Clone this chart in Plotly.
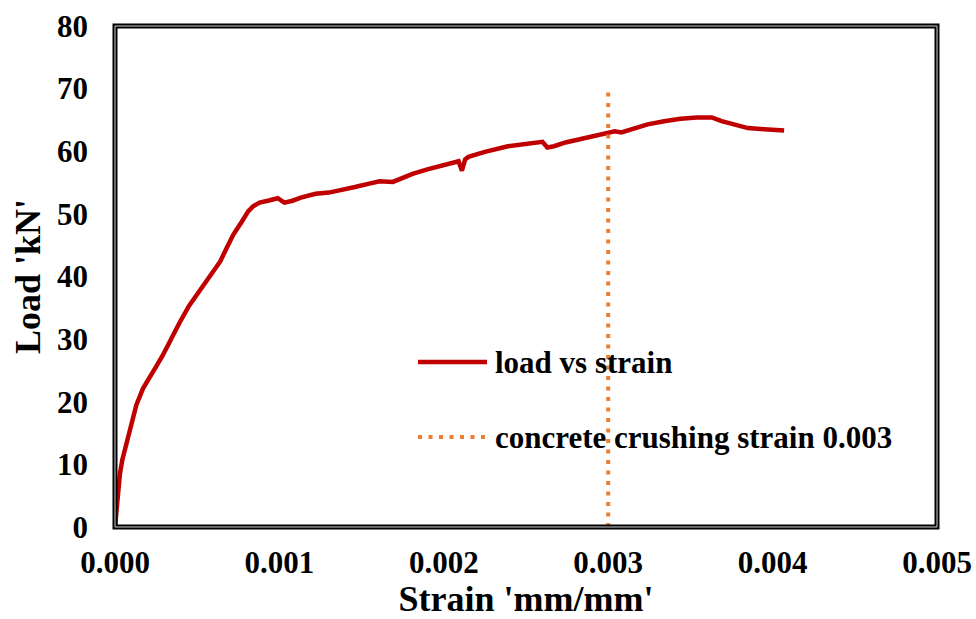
import plotly.graph_objects as go

# Measured load-strain response of the beam
strain = [0, 0.00001, 0.00003, 0.000045, 0.00006, 0.00008, 0.0001, 0.00013, 0.00017,
          0.00021, 0.00025, 0.00029, 0.00033, 0.00039, 0.00045, 0.00051, 0.00058,
          0.00064, 0.00068, 0.00072, 0.00077, 0.00081, 0.00084, 0.00088, 0.00093,
          0.00099, 0.00103, 0.00108, 0.00113, 0.00122, 0.00130, 0.00138, 0.00146,
          0.00154, 0.00161, 0.00169, 0.00175, 0.00181, 0.00190, 0.00200, 0.00209,
          0.00211, 0.00213, 0.00215, 0.00225, 0.00239, 0.00250, 0.00260, 0.00263,
          0.00267, 0.00274, 0.00285, 0.00294, 0.00300, 0.00304, 0.00308, 0.00316,
          0.00324, 0.00334, 0.00344, 0.00354, 0.00363, 0.00369, 0.00377, 0.00385,
          0.00395, 0.00407]
load = [0, 3.0, 8.5, 10.8, 12.3, 14.7, 16.5, 19.5, 22.1,
        24.0, 25.6, 27.4, 29.6, 32.5, 35.3, 37.6, 40.0,
        42.4, 44.6, 46.7, 48.7, 50.4, 51.2, 51.8, 52.1,
        52.5, 51.8, 52.1, 52.6, 53.2, 53.4, 53.8, 54.3,
        54.8, 55.2, 55.1, 55.8, 56.4, 57.1, 57.8, 58.4,
        56.9, 58.7, 59.1, 59.9, 60.8, 61.2, 61.5, 60.6,
        60.8, 61.4, 62.1, 62.7, 63.0, 63.2, 63.0, 63.6,
        64.3, 64.8, 65.2, 65.4, 65.4, 64.8, 64.2, 63.7,
        63.5, 63.3]

# Concrete crushing strain reference line
crush_strain = [0.003, 0.003]
crush_load = [0, 70]

x_ticks = [0, 0.001, 0.002, 0.003, 0.004, 0.005]
x_tick_text = ["0.000", "0.001", "0.002", "0.003", "0.004", "0.005"]
y_ticks = [0, 10, 20, 30, 40, 50, 60, 70, 80]

names = ["load vs strain", "concrete crushing strain 0.003"]
RED = "#C00000"
ORANGE = "#ED7D31"
DOTS = "4px,6.5px"
FONT = "Liberation Serif"

fig = go.Figure()
fig.add_trace(go.Scatter(x=strain, y=load, mode="lines", name=names[0],
                         line=dict(color=RED, width=4.5), showlegend=False))
fig.add_trace(go.Scatter(x=crush_strain, y=crush_load, mode="lines", name=names[1],
                         line=dict(color=ORANGE, width=4, dash=DOTS), showlegend=False))

W, H = 976, 619
L, R, T, B = 115, 39, 26, 92

fig.update_layout(
    width=W, height=H,
    margin=dict(l=L, r=R, t=T, b=B, autoexpand=False),
    paper_bgcolor="white", plot_bgcolor="white",
    font=dict(family=FONT, color="black", size=31, weight="bold"),
    xaxis=dict(range=[0, 0.005], tickvals=x_ticks, ticktext=x_tick_text,
               showgrid=False, zeroline=False, showline=False, ticks="",
               ticklabelstandoff=14, automargin=False,
               tickfont=dict(family=FONT, size=31, weight="bold"),
               title=dict(text="Strain 'mm/mm'", standoff=9,
                          font=dict(family=FONT, size=36, weight="bold"))),
    yaxis=dict(range=[0, 80], tickvals=y_ticks,
               showgrid=False, zeroline=False, showline=False, ticks="",
               ticklabelstandoff=26, automargin=False,
               tickfont=dict(family=FONT, size=31, weight="bold"),
               title=dict(text="Load 'kN'", standoff=5,
                          font=dict(family=FONT, size=36, weight="bold"))),
)

# Double-line plot frame
fig.add_shape(type="rect", xref="paper", yref="paper", x0=0, x1=1, y0=0, y1=1,
              line=dict(color="black", width=5), layer="above")
fig.add_shape(type="rect", xref="paper", yref="paper", x0=0, x1=1, y0=0, y1=1,
              line=dict(color="#d0d0d0", width=1), layer="above")

# Legend drawn inside the plot area
pw = W - L - R
ph = H - T - B
def px(xp):
    return (xp - L) / pw
def py(yp):
    return (H - B - yp) / ph

legend_rows = [(362, RED, "solid", 4.5), (437, ORANGE, DOTS, 4)]
for (yp, col, dash, wd), name in zip(legend_rows, names):
    fig.add_shape(type="line", xref="paper", yref="paper",
                  x0=px(418), x1=px(487), y0=py(yp), y1=py(yp),
                  line=dict(color=col, width=wd, dash=dash))
    fig.add_annotation(xref="paper", yref="paper", x=px(493), y=py(yp),
                       xanchor="left", yanchor="middle", showarrow=False,
                       text=name, font=dict(family=FONT, size=31, weight="bold",
                                            color="black"))

fig.write_html("out.html")
